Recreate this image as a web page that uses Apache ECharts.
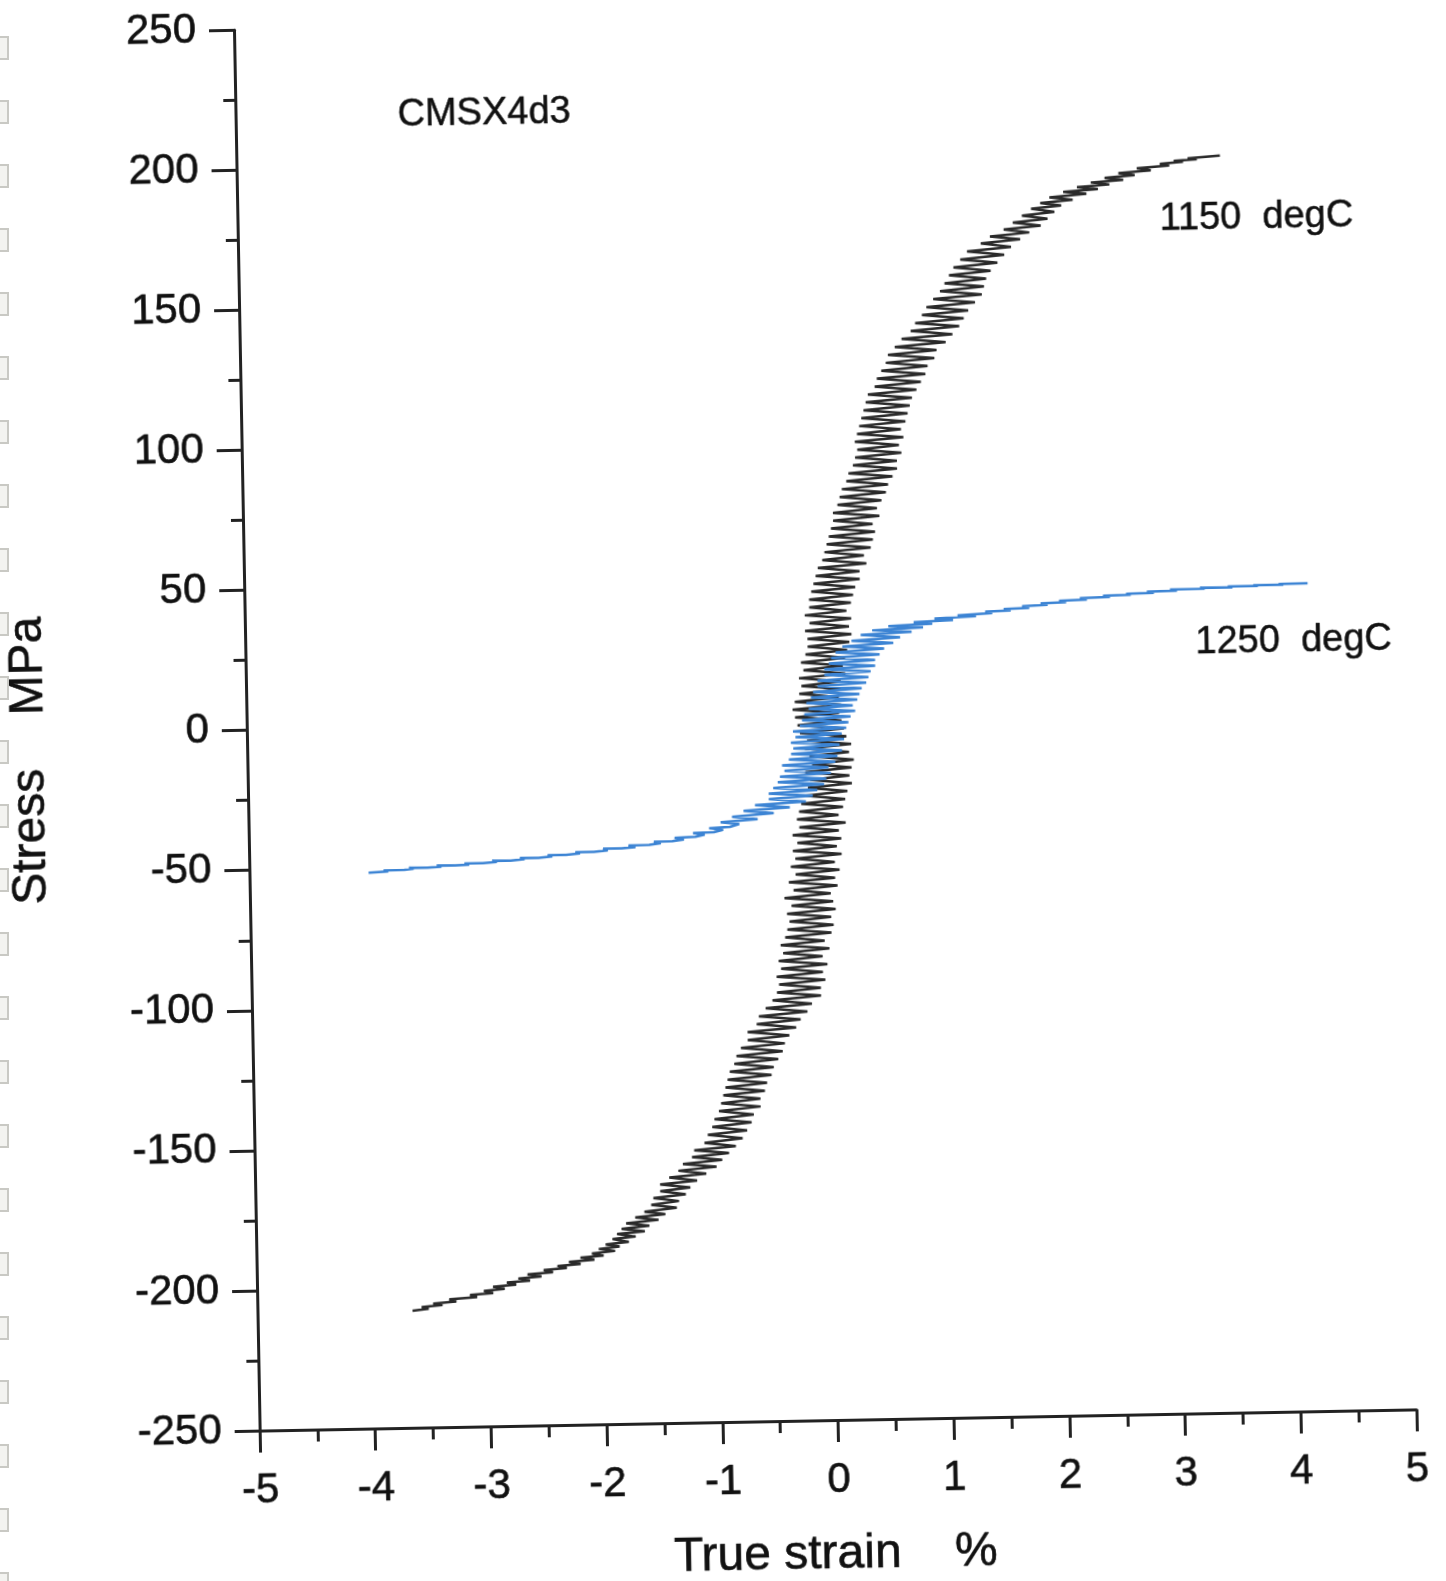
<!DOCTYPE html>
<html>
<head>
<meta charset="utf-8">
<script src="https://cdn.jsdelivr.net/npm/echarts@6.0.0/dist/echarts.min.js"></script>
<style>
html,body{margin:0;padding:0;background:#fff;overflow:hidden;width:1446px;height:1581px;position:relative;}
#chart{position:absolute;left:0;top:0;width:1446px;height:1581px;transform:rotate(-1.05deg);transform-origin:723px 790.5px;}
#marks{position:absolute;left:0;top:0;width:20px;height:1581px;pointer-events:none;z-index:2;}
.mark{position:absolute;left:-4px;width:9px;height:20px;background:#f3f3f0;border:2px solid #c9c9c4;}
</style>
</head>
<body>
<div id="chart"></div>
<div id="marks"></div>
<script>
// Axis ranges
const strainRange = [-5, 5];
const stressRange = [-250, 250];

// 1150 degC curve: [true strain %, stress MPa]
const curve1150 = [
[-3.66,-208.2],[-3.52,-207.6],[-3.58,-207.0],[-3.40,-206.4],[-3.48,-205.8],[-3.28,-205.2],[-3.34,-204.4],[-3.10,-203.8],[-3.16,-203.0],[-2.96,-202.4],
[-3.04,-201.6],[-2.86,-201.0],[-2.96,-200.2],[-2.76,-199.6],[-2.84,-198.8],[-2.64,-198.2],[-2.74,-197.4],[-2.54,-196.8],[-2.66,-196.0],[-2.44,-195.4],
[-2.52,-194.6],[-2.32,-194.0],[-2.40,-193.2],[-2.20,-192.6],[-2.30,-191.8],[-2.08,-191.2],[-2.20,-190.4],[-2.00,-189.8],[-2.10,-189.0],[-1.90,-188.2],
[-2.04,-187.4],[-1.86,-186.6],[-1.98,-185.8],[-1.78,-185.0],[-1.92,-184.0],[-1.72,-183.2],[-1.88,-182.2],[-1.64,-181.4],[-1.84,-180.4],[-1.60,-179.4],
[-1.80,-178.4],[-1.52,-177.4],[-1.72,-176.4],[-1.46,-175.4],[-1.64,-174.4],[-1.36,-173.2],[-1.58,-172.0],[-1.34,-170.8],[-1.56,-169.6],[-1.28,-168.4],
[-1.50,-167.2],[-1.24,-166.0],[-1.50,-164.8],[-1.18,-163.6],[-1.42,-162.4],[-1.10,-161.2],[-1.34,-160.0],[-1.01,-158.8],[-1.30,-157.6],[-0.96,-156.4],
[-1.22,-155.2],[-0.90,-154.0],[-1.20,-152.8],[-0.84,-151.6],[-1.11,-150.2],[-0.78,-148.8],[-1.08,-147.4],[-0.74,-146.0],[-1.04,-144.6],[-0.70,-143.2],
[-1.02,-141.8],[-0.68,-140.4],[-0.98,-139.0],[-0.62,-137.6],[-0.96,-136.2],[-0.62,-134.8],[-0.94,-133.4],[-0.58,-132.0],[-0.92,-130.6],[-0.56,-129.2],
[-0.90,-127.8],[-0.52,-126.4],[-0.88,-125.0],[-0.50,-123.6],[-0.84,-122.2],[-0.46,-120.8],[-0.82,-119.4],[-0.42,-118.0],[-0.78,-116.6],[-0.40,-115.2],
[-0.72,-113.8],[-0.36,-112.4],[-0.72,-111.0],[-0.30,-109.6],[-0.64,-108.2],[-0.26,-106.8],[-0.62,-105.4],[-0.20,-104.0],[-0.56,-102.6],[-0.16,-101.2],
[-0.50,-99.8],[-0.08,-98.4],[-0.46,-97.0],[-0.08,-95.6],[-0.44,-94.2],[-0.04,-92.8],[-0.46,-91.4],[-0.06,-90.0],[-0.42,-88.6],[-0.02,-87.2],
[-0.44,-85.8],[-0.06,-84.4],[-0.40,-83.0],[0.00,-81.6],[-0.42,-80.2],[-0.04,-78.8],[-0.38,-77.4],[0.02,-76.0],[-0.36,-74.6],[0.04,-73.2],
[-0.34,-71.8],[0.02,-70.4],[-0.36,-69.0],[0.06,-67.6],[-0.32,-66.2],[0.04,-64.8],[-0.38,-63.4],[0.02,-62.0],[-0.30,-60.6],[0.08,-59.2],
[-0.34,-57.8],[0.06,-56.4],[-0.28,-55.0],[0.10,-53.6],[-0.32,-52.2],[0.06,-50.8],[-0.28,-49.4],[0.12,-48.0],[-0.30,-46.6],[0.08,-45.2],
[-0.26,-43.8],[0.12,-42.4],[-0.30,-41.0],[0.10,-39.6],[-0.24,-38.2],[0.16,-36.8],[-0.26,-35.4],[0.10,-34.0],[-0.24,-32.6],[0.14,-31.2],
[-0.22,-29.8],[0.16,-28.4],[-0.18,-27.0],[0.18,-25.6],[-0.16,-24.2],[0.22,-22.8],[-0.14,-21.4],[0.20,-20.0],[-0.18,-18.6],[0.22,-17.2],
[-0.12,-15.8],[0.24,-14.4],[-0.14,-13.0],[0.20,-11.6],[-0.18,-10.2],[0.22,-8.8],[-0.16,-7.4],[0.18,-6.0],[-0.22,-4.6],[0.16,-3.2],
[-0.24,-1.8],[0.14,-0.4],[-0.26,1.0],[0.12,2.4],[-0.28,3.8],[0.14,5.2],[-0.26,6.6],[0.12,8.0],[-0.22,9.4],[0.16,10.8],
[-0.20,12.2],[0.14,13.6],[-0.22,15.0],[0.18,16.4],[-0.18,17.8],[0.16,19.2],[-0.20,20.6],[0.18,22.0],[-0.16,23.4],[0.20,24.8],
[-0.14,26.2],[0.22,27.6],[-0.14,29.0],[0.24,30.4],[-0.16,31.8],[0.22,33.2],[-0.12,34.6],[0.24,36.0],[-0.16,37.4],[0.20,38.8],
[-0.12,40.2],[0.24,41.6],[-0.12,43.0],[0.26,44.4],[-0.10,45.8],[0.28,47.2],[-0.08,48.6],[0.32,50.0],[-0.06,51.4],[0.32,52.8],
[-0.04,54.2],[0.38,55.6],[0.00,57.0],[0.36,58.4],[0.02,59.8],[0.42,61.2],[0.04,62.6],[0.44,64.0],[0.06,65.4],[0.46,66.8],
[0.08,68.2],[0.44,69.6],[0.10,71.0],[0.50,72.4],[0.10,73.8],[0.48,75.2],[0.14,76.6],[0.52,78.0],[0.16,79.4],[0.56,80.8],
[0.18,82.2],[0.58,83.6],[0.22,85.0],[0.62,86.4],[0.24,87.8],[0.66,89.2],[0.28,90.6],[0.66,92.0],[0.30,93.4],[0.70,94.8],
[0.32,96.2],[0.68,97.6],[0.30,99.0],[0.72,100.4],[0.32,101.8],[0.70,103.2],[0.34,104.6],[0.74,106.0],[0.36,107.4],[0.76,108.8],
[0.38,110.2],[0.78,111.6],[0.40,113.0],[0.80,114.4],[0.42,115.8],[0.84,117.2],[0.48,118.6],[0.88,120.0],[0.50,121.4],[0.92,122.8],
[0.54,124.2],[0.94,125.6],[0.58,127.0],[1.00,128.4],[0.60,129.8],[1.02,131.2],[0.66,132.6],[1.10,134.0],[0.72,135.4],[1.16,136.8],
[0.80,138.2],[1.22,139.6],[0.84,141.0],[1.26,142.4],[0.90,143.8],[1.30,145.2],[0.94,146.6],[1.36,148.0],[1.00,149.4],[1.42,150.8],
[1.06,152.2],[1.44,153.6],[1.10,155.0],[1.46,156.4],[1.14,157.8],[1.50,159.2],[1.18,160.6],[1.56,162.0],[1.24,163.4],[1.62,164.8],
[1.30,166.2],[1.68,167.6],[1.42,169.0],[1.76,170.2],[1.50,171.4],[1.84,172.6],[1.62,173.8],[1.94,175.0],[1.70,176.2],[2.00,177.4],
[1.78,178.6],[2.06,179.8],[1.86,181.0],[2.12,182.0],[1.94,183.0],[2.22,184.0],[2.02,185.0],[2.34,186.0],[2.14,186.8],[2.44,187.6],
[2.26,188.4],[2.54,189.2],[2.38,190.0],[2.66,190.8],[2.50,191.6],[2.76,192.4],[2.62,193.2],[2.90,194.0],[2.78,194.8],[3.06,195.6],
[2.98,196.2],[3.18,196.8],[3.10,197.2],[3.30,197.6],[3.22,198.0],[3.50,198.8]
];

// 1250 degC curve: [true strain %, stress MPa]
const curve1250 = [
[-3.97,-51.6],[-3.80,-51.3],[-3.84,-50.9],[-3.66,-50.8],[-3.58,-50.5],[-3.62,-50.1],[-3.46,-50.2],[-3.34,-49.9],[-3.38,-49.5],[-3.22,-49.6],
[-3.10,-49.4],[-3.14,-48.9],[-2.98,-48.9],[-2.86,-48.6],[-2.90,-48.1],[-2.74,-48.2],[-2.62,-47.8],[-2.66,-47.3],[-2.50,-47.4],[-2.38,-47.0],
[-2.42,-46.5],[-2.26,-46.5],[-2.14,-46.1],[-2.18,-45.6],[-2.02,-45.6],[-1.90,-45.2],[-1.94,-44.6],[-1.78,-44.6],[-1.66,-44.2],[-1.72,-43.6],
[-1.54,-43.5],[-1.44,-43.0],[-1.50,-42.4],[-1.34,-42.3],[-1.24,-41.8],[-1.32,-41.2],[-1.14,-40.9],[-1.06,-40.2],[-1.16,-39.6],[-0.98,-39.4],
[-0.90,-38.6],[-1.02,-38.0],[-0.84,-37.6],[-0.76,-36.6],[-0.92,-35.9],
[-0.60,-35.0],[-0.82,-34.0],[-0.46,-33.0],[-0.72,-32.0],[-0.32,-31.0],[-0.62,-30.0],[-0.18,-29.0],[-0.50,-28.0],[-0.12,-27.0],[-0.50,-26.0],
[-0.08,-25.0],[-0.46,-24.0],[-0.02,-23.0],[-0.42,-22.0],[0.00,-21.0],[-0.40,-20.0],[0.04,-19.0],[-0.36,-18.0],[0.02,-17.0],[-0.38,-16.0],
[0.08,-15.0],[-0.32,-14.0],[0.10,-13.0],[-0.30,-12.0],[0.14,-11.0],[-0.28,-10.0],[0.12,-9.0],[-0.30,-8.0],[0.16,-7.0],[-0.26,-6.0],
[0.14,-5.0],[-0.28,-4.0],[0.18,-3.0],[-0.22,-2.0],[0.20,-1.0],[-0.20,0.0],[0.22,1.0],[-0.18,2.0],[0.26,3.0],[-0.14,4.0],
[0.24,5.0],[-0.16,6.0],[0.28,7.0],[-0.12,8.0],[0.30,9.0],[-0.10,10.0],[0.32,11.0],[-0.06,12.0],[0.36,13.0],[-0.06,14.0],
[0.38,15.0],[0.00,16.0],[0.40,17.0],[0.00,18.0],[0.44,19.0],[0.04,20.0],[0.44,21.0],[0.06,22.0],[0.48,23.0],[0.10,24.0],
[0.52,25.0],[0.16,26.0],[0.60,27.0],[0.24,28.0],[0.66,29.0],[0.32,30.0],[0.76,30.8],[0.42,31.6],[0.86,32.4],[0.56,33.0],
[0.94,33.6],[0.78,34.2],[1.12,34.8],[0.96,35.4],[1.32,36.0],[1.16,36.4],[1.46,37.0],[1.40,37.5],[1.62,37.8],[1.56,38.3],
[1.78,38.6],[1.72,39.2],[1.94,39.6],[1.88,40.1],[2.10,40.4],[2.04,40.9],[2.28,41.2],[2.22,41.7],[2.48,42.0],[2.42,42.4],
[2.66,42.6],[2.62,43.0],[2.86,43.2],[2.80,43.6],[3.06,43.8],[3.00,44.2],[3.30,44.3],[3.26,44.7],[3.54,44.6],[3.50,44.9],
[3.76,44.9],[3.72,45.2],[3.98,45.2],[3.94,45.5],[4.19,45.6]
];

// binder-hole marks along the left page edge (page decoration, not data)
(function () {
  const box = document.getElementById('marks');
  for (let k = 0; k < 25; k++) {
    const d = document.createElement('div');
    d.className = 'mark';
    d.style.top = (36 + 64 * k) + 'px';
    box.appendChild(d);
  }
})();

const FONT = '"Liberation Sans", Arial, sans-serif';
const chart = echarts.init(document.getElementById('chart'), null, {renderer: 'canvas'});

const labelStyle = {fontSize: 42, fontFamily: FONT, color: '#111', textBorderColor: '#111', textBorderWidth: 0.6};

const option = {
  animation: false,
  backgroundColor: '#ffffff',
  grid: {left: 248, top: 19, width: 1157, height: 1403, containLabel: false},
  xAxis: {
    type: 'value', min: strainRange[0], max: strainRange[1], interval: 1,
    axisLine: {onZero: false, lineStyle: {color: '#222', width: 3}},
    axisTick: {show: true, inside: false, length: 22, lineStyle: {color: '#222', width: 3}},
    minorTick: {show: true, splitNumber: 2, length: 12, lineStyle: {color: '#222', width: 3}},
    splitLine: {show: false},
    axisLabel: Object.assign({margin: 39}, labelStyle)
  },
  yAxis: {
    type: 'value', min: stressRange[0], max: stressRange[1], interval: 50,
    axisLine: {onZero: false, lineStyle: {color: '#222', width: 3}},
    axisTick: {show: true, inside: false, length: 25, lineStyle: {color: '#222', width: 3}},
    minorTick: {show: true, splitNumber: 2, length: 12, lineStyle: {color: '#222', width: 3}},
    splitLine: {show: false},
    axisLabel: Object.assign({margin: 38}, labelStyle)
  },
  series: [
    {
      name: '1150 degC', type: 'line', data: curve1150, showSymbol: false, symbol: 'none',
      lineStyle: {color: '#2a2a2a', width: 2.5}, z: 2
    },
    {
      name: '1250 degC', type: 'line', data: curve1250, showSymbol: false, symbol: 'none',
      lineStyle: {color: '#3c84d4', width: 2.5}, z: 3
    }
  ],
  graphic: [
    {type: 'text', x: 410, y: 110, silent: true,
     style: {text: 'CMSX4d3', font: '38px ' + FONT, fill: '#111', stroke: '#111', lineWidth: 0.5, textVerticalAlign: 'middle'}},
    {type: 'text', x: 1170, y: 228, silent: true,
     style: {text: '1150  degC', font: '38px ' + FONT, fill: '#111', stroke: '#111', lineWidth: 0.5, textVerticalAlign: 'middle'}},
    {type: 'text', x: 1198, y: 652, silent: true,
     style: {text: '1250  degC', font: '38px ' + FONT, fill: '#111', stroke: '#111', lineWidth: 0.5, textVerticalAlign: 'middle'}},
    {type: 'text', x: 660, y: 1557, silent: true,
     style: {text: 'True strain    %', font: '48px ' + FONT, fill: '#111', stroke: '#111', lineWidth: 0.6, textVerticalAlign: 'middle'}},
    {type: 'text', x: 31, y: 748, rotation: Math.PI / 2, silent: true,
     style: {text: 'Stress    MPa', font: '48px ' + FONT, fill: '#111', stroke: '#111', lineWidth: 0.6, textAlign: 'center', textVerticalAlign: 'middle'}}
  ]
};
chart.setOption(option);
</script>
</body>
</html>
